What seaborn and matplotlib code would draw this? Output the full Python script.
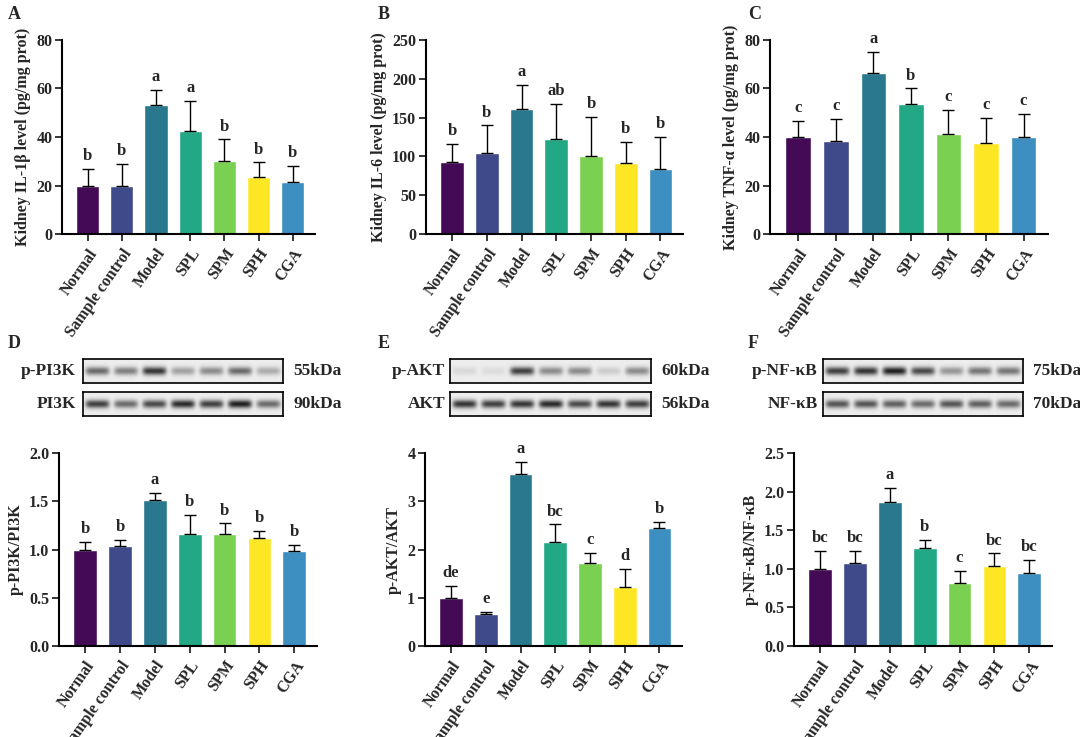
import numpy as np
import pandas as pd
import matplotlib
matplotlib.use("Agg")
import matplotlib.pyplot as plt
import seaborn as sns

sns.set_theme(style="ticks")
plt.rcParams['font.family'] = ['Liberation Serif', 'DejaVu Serif']
plt.rcParams['font.weight'] = 'bold'

groups = ["Normal", "Sample control", "Model", "SPL", "SPM", "SPH", "CGA"]
colors = ["#440a55", "#3e4a8a", "#2a788e", "#22a884", "#7ad151", "#fde725", "#3d8fc2"]

il1b = [20, 20, 53, 42.5, 30, 23.5, 21.5]
il1b_sd = [7, 9, 6.5, 12.5, 9, 6, 6.5]
il1b_let = ["b", "b", "a", "a", "b", "b", "b"]
il6 = [93, 105, 161, 123, 100, 91, 84]
il6_sd = [23, 35, 31, 45, 51, 28, 41]
il6_let = ["b", "b", "a", "ab", "b", "b", "b"]
tnf = [40, 38.3, 66.5, 53.5, 41.2, 37.7, 40.2]
tnf_sd = [6.5, 9, 8.5, 6.5, 10, 10, 9.3]
tnf_let = ["c", "c", "a", "b", "c", "c", "c"]
pi3k = [1.0, 1.04, 1.51, 1.16, 1.16, 1.12, 0.98]
pi3k_sd = [0.08, 0.06, 0.08, 0.2, 0.11, 0.07, 0.07]
pi3k_let = ["b", "b", "a", "b", "b", "b", "b"]
akt = [1.0, 0.66, 3.56, 2.15, 1.73, 1.23, 2.44]
akt_sd = [0.25, 0.04, 0.25, 0.37, 0.2, 0.37, 0.13]
akt_let = ["de", "e", "a", "bc", "c", "d", "b"]
nfkb = [1.0, 1.08, 1.86, 1.27, 0.81, 1.04, 0.95]
nfkb_sd = [0.23, 0.15, 0.19, 0.1, 0.16, 0.16, 0.17]
nfkb_let = ["bc", "bc", "a", "b", "c", "bc", "bc"]

# blot band intensities (0-1)
blot_ppi3k = [0.6, 0.5, 0.85, 0.35, 0.45, 0.6, 0.3]
blot_pi3k = [0.8, 0.6, 0.75, 0.9, 0.8, 0.95, 0.6]
blot_pakt = [0.1, 0.08, 0.8, 0.45, 0.45, 0.15, 0.45]
blot_akt = [0.85, 0.8, 0.85, 0.9, 0.75, 0.85, 0.8]
blot_pnfkb = [0.8, 0.85, 0.95, 0.75, 0.4, 0.55, 0.55]
blot_nfkb = [0.7, 0.7, 0.65, 0.6, 0.7, 0.65, 0.6]

W, H = 1080, 737
fig = plt.figure(figsize=(10.8, 7.37), dpi=100)

def ax_px(x0, y0, x1, y1):
    return fig.add_axes([x0 / W, 1 - y1 / H, (x1 - x0) / W, (y1 - y0) / H])

def bar_panel(ax, vals, sds, lets, ylim, step, ylabel):
    df = pd.DataFrame({"g": groups, "v": vals})
    sns.barplot(data=df, x="g", y="v", hue="g", palette=colors, legend=False,
                ax=ax, width=0.68, saturation=1)
    x = np.arange(len(groups))
    ax.errorbar(x, vals, yerr=[np.zeros(len(sds)), sds], fmt="none",
                ecolor="black", elinewidth=1, capsize=4, capthick=1)
    for xi, v, s, l in zip(x, vals, sds, lets):
        ax.text(xi, v + s + ylim * 0.025, l, ha="center", va="bottom",
                fontsize=12, fontweight="bold")
    ax.set_ylim(0, ylim)
    ax.set_yticks(np.arange(0, ylim + 1e-9, step))
    ax.set_xlim(-0.75, 6.65)
    ax.set_xlabel("")
    ax.set_ylabel(ylabel, fontsize=11.5, fontweight="bold", labelpad=4)
    ax.set_xticks(x)
    ax.set_xticklabels(groups, rotation=55, ha="right", rotation_mode="anchor",
                       fontsize=11.5, fontweight="bold")
    for t in ax.get_yticklabels():
        t.set_fontweight("bold")
    ax.tick_params(axis="y", labelsize=11.5, width=1.3, length=5, pad=2)
    ax.tick_params(axis="x", width=1.3, length=5)
    sns.despine(ax=ax)
    for s in ["left", "bottom"]:
        ax.spines[s].set_linewidth(1.5)
        ax.spines[s].set_color("black")

def fmt1(ax):
    ax.set_yticklabels([f"{t:.1f}" for t in ax.get_yticks()], fontweight="bold")

def blot(x0, x1, y0, y1, inten, label, kda, lab_x1):
    ax = ax_px(x0, y0, x1, y1)
    nx, ny = 400, 40
    xs = np.linspace(0, 7, nx)
    ys = np.linspace(-1, 1, ny)
    img = np.zeros((ny, nx))
    for i, a in enumerate(inten):
        prof_x = np.exp(-((xs - (i + 0.5)) / 0.42) ** 6)
        prof_y = np.exp(-(ys / 0.35) ** 2)
        img += a * np.outer(prof_y, prof_x)
    ax.imshow(0.93 - 0.85 * np.clip(img, 0, 1), cmap="gray", vmin=0, vmax=1,
              aspect="auto", extent=[0, 7, -1, 1])
    ax.set_xticks([]); ax.set_yticks([])
    for s in ax.spines.values():
        s.set_linewidth(1.2); s.set_color("black")
    fig.text(lab_x1 / W, 1 - ((y0 + y1) / 2) / H, label, ha="right", va="center",
             fontsize=12.5, fontweight="bold")
    fig.text((x1 + 10) / W, 1 - ((y0 + y1) / 2) / H, kda, ha="left", va="center",
             fontsize=12.5, fontweight="bold")

axA = ax_px(62, 40, 315, 234)
bar_panel(axA, il1b, il1b_sd, il1b_let, 80, 20, "Kidney IL-1β level (pg/mg prot)")
axB = ax_px(426, 40, 683, 234)
bar_panel(axB, il6, il6_sd, il6_let, 250, 50, "Kidney IL-6 level (pg/mg prot)")
axC = ax_px(770, 40, 1048, 234)
bar_panel(axC, tnf, tnf_sd, tnf_let, 80, 20, "Kidney TNF-α level (pg/mg prot)")

axD = ax_px(59, 453, 317, 646)
bar_panel(axD, pi3k, pi3k_sd, pi3k_let, 2.0, 0.5, "p-PI3K/PI3K"); fmt1(axD)
axE = ax_px(425, 453, 682, 646)
bar_panel(axE, akt, akt_sd, akt_let, 4, 1, "p-AKT/AKT")
axF = ax_px(794, 453, 1052, 646)
bar_panel(axF, nfkb, nfkb_sd, nfkb_let, 2.5, 0.5, "p-NF-κB/NF-κB"); fmt1(axF)

blot(83, 283, 359, 383, blot_ppi3k, "p-PI3K", "55kDa", 76)
blot(83, 283, 392, 416, blot_pi3k, "PI3K", "90kDa", 76)
blot(450, 651, 359, 383, blot_pakt, "p-AKT", "60kDa", 445)
blot(450, 651, 392, 416, blot_akt, "AKT", "56kDa", 445)
blot(823, 1023, 359, 383, blot_pnfkb, "p-NF-κB", "75kDa", 818)
blot(823, 1023, 392, 416, blot_nfkb, "NF-κB", "70kDa", 818)

for lab, x, y in [("A", 8, 6), ("B", 378, 6), ("C", 748, 6),
                  ("D", 8, 335), ("E", 378, 335), ("F", 748, 335)]:
    fig.text(x / W, 1 - y / H, lab, ha="left", va="top", fontsize=13, fontweight="bold")

fig.savefig("out.png", dpi=100)
